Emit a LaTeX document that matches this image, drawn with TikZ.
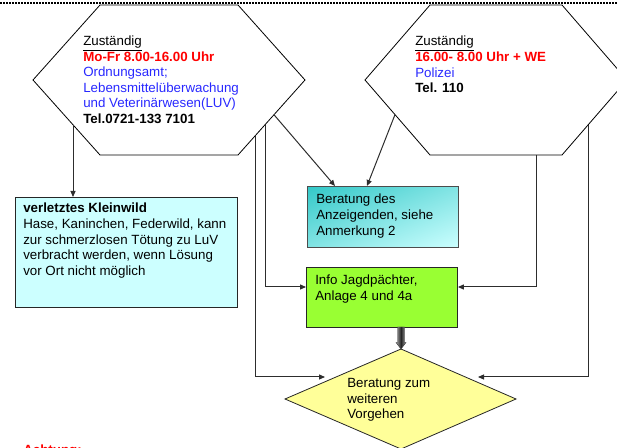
\documentclass[tikz,border=0pt]{standalone}
\usepackage{fontspec}
\setmainfont{Liberation Sans}
\usetikzlibrary{arrows.meta,calc,shadings}
\definecolor{tred}{RGB}{255,0,0}
\definecolor{tblue}{RGB}{40,40,255}
\definecolor{kwfill}{RGB}{204,255,255}
\definecolor{grfill}{RGB}{153,255,51}
\definecolor{dmfill}{RGB}{255,255,153}
\definecolor{tealA}{RGB}{51,200,200}
\definecolor{tealB}{RGB}{130,228,228}
\definecolor{tealC}{RGB}{204,255,255}
\definecolor{lin}{RGB}{45,45,45}
\begin{document}
\begin{tikzpicture}[x=0.75pt,y=-0.75pt,
  hexline/.style={draw=black, line width=0.6pt},
  boxline/.style={draw=black!85, line width=0.7pt},
  boxnode/.style={boxline, anchor=north west, inner sep=0pt},
  conn/.style={draw=lin, line width=0.75pt, -{Triangle[length=4.5pt,width=3.8pt]}},
  txt/.style={anchor=north west, inner sep=0pt, align=left, font=\fontsize{10}{11.7}\selectfont},
]
\useasboundingbox (0,0) rectangle (617,448);
\clip (0,0) rectangle (617,448);
\draw[line width=1.5pt, dash pattern=on 1.5pt off 0.75pt] (0,3) -- (617,3);

% left hexagon
\coordinate (L1) at (100,5);
\coordinate (L2) at (238,5);
\coordinate (L3) at (305,80);
\coordinate (L4) at (238,155);
\coordinate (L5) at (100,155);
\coordinate (L6) at (33,80);
\draw[hexline] (L1)--(L2)--(L3)--(L4)--(L5)--(L6)--cycle;
\node[txt] (ltext) at (83,35.5) {\underline{Zuständig}\\
  \textcolor{tred}{\textbf{Mo-Fr 8.00-16.00 Uhr}}\\
  \textcolor{tblue}{Ordnungsamt;}\\
  \textcolor{tblue}{Lebensmittelüberwachung}\\
  \textcolor{tblue}{und Veterinärwesen(LUV)}\\
  \textbf{Tel.0721-133 7101}};

% right hexagon
\coordinate (R1) at (430,5);
\coordinate (R2) at (562,5);
\coordinate (R3) at (627,80);
\coordinate (R4) at (562,155);
\coordinate (R5) at (430,155);
\coordinate (R6) at (365,80);
\draw[hexline] (R1)--(R2)--(R3)--(R4)--(R5)--(R6)--cycle;
\node[txt] (rtext) at (415,36) {\underline{Zuständig}\\
  \textcolor{tred}{\textbf{16.00- 8.00 Uhr + WE}}\\
  \textcolor{tblue}{Polizei}\\
  \textbf{Tel. 110}};

% boxes
\node[boxnode, fill=kwfill, minimum width=166.5pt, minimum height=82.5pt] (kw) at (15,197) {};
\node[txt] (kwtext) at (23,203) {\textbf{verletztes Kleinwild}\\
  Hase, Kaninchen, Federwild, kann\\
  zur schmerzlosen Tötung zu LuV\\
  verbracht werden, wenn Lösung\\
  vor Ort nicht möglich};

\node[boxnode, draw=black!70, upper left=tealA, upper right=tealB, lower left=tealB, lower right=tealC,
  minimum width=113.25pt, minimum height=45.75pt] (tb) at (307,186) {};
\node[txt] (tbtext) at (316,194) {Beratung des\\ Anzeigenden, siehe\\ Anmerkung 2};

\node[boxnode, fill=grfill, minimum width=113.25pt, minimum height=45pt] (gr) at (306,267) {};
\node[txt] (grtext) at (315,275) {Info Jagdpächter,\\ Anlage 4 und 4a};

% diamond
\coordinate (DT) at (401,349);
\coordinate (DR) at (516,399);
\coordinate (DB) at (401,449);
\coordinate (DL) at (285,399);
\draw[fill=dmfill, draw=black!85, line width=0.6pt] (DT)--(DR)--(DB)--(DL)--cycle;
\node[txt] (dmtext) at (347,378) {Beratung zum\\ weiteren\\ Vorgehen};

% block arrow green -> diamond
\path[left color=gray!70, right color=gray!70, middle color=black!85, draw=black!80, line width=0.3pt]
  (397.5,327) -- (404.5,327) -- (404.5,342.5) -- (406,342.5) -- (DT) -- (396,342.5) -- (397.5,342.5) -- cycle;

% connector points
\coordinate (a1) at ($(L6)!0.597!(L5)$);
\coordinate (a2) at ($(L3)!0.463!(L4)$);
\coordinate (a3) at ($(R6)!0.4615!(R5)$);
\coordinate (a4) at ($(L3)!0.597!(L4)$);
\coordinate (a5) at ($(L3)!0.746!(L4)$);
\coordinate (a6) at ($(R5)!0.81!(R4)$);
\coordinate (a7) at ($(R3)!0.6!(R4)$);
\coordinate (t1) at ($(tb.north west)+(28,0)$);
\coordinate (t2) at ($(tb.north west)+(60,0)$);
\coordinate (g1) at ($(gr.north west)+(0,20)$);
\coordinate (g2) at ($(gr.north east)+(0,20)$);
\coordinate (dl) at (325,377);
\coordinate (dr) at (478,377);

\draw[conn] (a1) -- (a1 |- kw.north);
\draw[conn] (a2) -- (t1);
\draw[conn] (a3) -- (t2);
\draw[conn] (a4) |- (g1);
\draw[conn] (a5) |- (dl);
\draw[conn] (a6) |- (g2);
\draw[conn] (a7) |- (dr);

% cut-off note at bottom
\node[anchor=base west, inner sep=0pt, font=\fontsize{10}{11.7}\selectfont\bfseries, text=tred] (ach) at (23,455) {Achtung:};
\end{tikzpicture}
\end{document}
